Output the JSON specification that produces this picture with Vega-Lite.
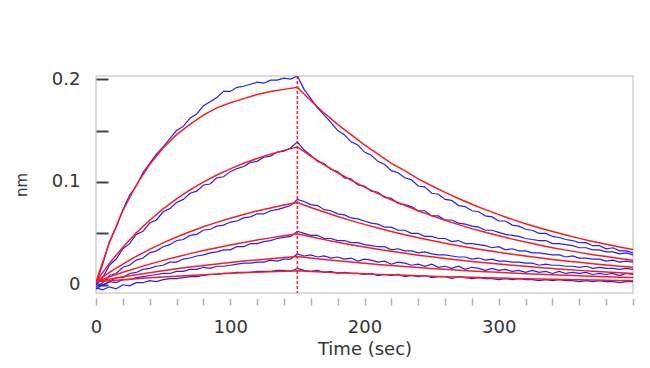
{
"$schema": "https://vega.github.io/schema/vega-lite/v6.json",
"width": 537, "height": 217,
"autosize": {"type": "none"},
"padding": {"left": 96, "top": 76, "right": 17, "bottom": 75},
"background": "white",
"config": {"view": {"stroke": "#cfcfcf", "strokeWidth": 1.5}, "font": "DejaVu Sans"},
"datasets": {
"raw": [
{"t":0,"b1":0.001,"b2":0.000,"b3":-0.002,"b4":-0.004,"b5":0.002,"b6":-0.003},
{"t":5,"b1":0.020,"b2":0.007,"b3":0.002,"b4":0.000,"b5":-0.001,"b6":-0.005},
{"t":10,"b1":0.042,"b2":0.019,"b3":0.009,"b4":0.003,"b5":0.003,"b6":-0.002},
{"t":15,"b1":0.056,"b2":0.025,"b3":0.011,"b4":0.007,"b5":0.002,"b6":-0.004},
{"t":20,"b1":0.073,"b2":0.035,"b3":0.017,"b4":0.007,"b5":0.005,"b6":0.000},
{"t":25,"b1":0.087,"b2":0.040,"b3":0.019,"b4":0.011,"b5":0.005,"b6":-0.001},
{"t":30,"b1":0.096,"b2":0.049,"b3":0.024,"b4":0.012,"b5":0.007,"b6":0.002},
{"t":35,"b1":0.109,"b2":0.052,"b3":0.026,"b4":0.015,"b5":0.008,"b6":0.002},
{"t":40,"b1":0.118,"b2":0.060,"b3":0.031,"b4":0.016,"b5":0.009,"b6":0.004},
{"t":45,"b1":0.127,"b2":0.063,"b3":0.033,"b4":0.018,"b5":0.010,"b6":0.003},
{"t":50,"b1":0.134,"b2":0.071,"b3":0.037,"b4":0.019,"b5":0.011,"b6":0.005},
{"t":55,"b1":0.142,"b2":0.074,"b3":0.039,"b4":0.022,"b5":0.011,"b6":0.006},
{"t":60,"b1":0.150,"b2":0.080,"b3":0.043,"b4":0.022,"b5":0.013,"b6":0.006},
{"t":65,"b1":0.154,"b2":0.083,"b3":0.044,"b4":0.025,"b5":0.013,"b6":0.007},
{"t":70,"b1":0.162,"b2":0.089,"b3":0.048,"b4":0.026,"b5":0.015,"b6":0.008},
{"t":75,"b1":0.166,"b2":0.091,"b3":0.049,"b4":0.028,"b5":0.015,"b6":0.008},
{"t":80,"b1":0.174,"b2":0.097,"b3":0.053,"b4":0.029,"b5":0.017,"b6":0.009},
{"t":85,"b1":0.178,"b2":0.098,"b3":0.054,"b4":0.031,"b5":0.016,"b6":0.010},
{"t":90,"b1":0.182,"b2":0.104,"b3":0.057,"b4":0.032,"b5":0.018,"b6":0.010},
{"t":95,"b1":0.188,"b2":0.105,"b3":0.058,"b4":0.034,"b5":0.018,"b6":0.011},
{"t":100,"b1":0.188,"b2":0.110,"b3":0.061,"b4":0.034,"b5":0.019,"b6":0.011},
{"t":105,"b1":0.192,"b2":0.113,"b3":0.062,"b4":0.037,"b5":0.020,"b6":0.012},
{"t":110,"b1":0.193,"b2":0.115,"b3":0.065,"b4":0.037,"b5":0.021,"b6":0.012},
{"t":115,"b1":0.195,"b2":0.119,"b3":0.066,"b4":0.040,"b5":0.021,"b6":0.012},
{"t":120,"b1":0.197,"b2":0.120,"b3":0.069,"b4":0.040,"b5":0.022,"b6":0.013},
{"t":125,"b1":0.196,"b2":0.124,"b3":0.069,"b4":0.042,"b5":0.022,"b6":0.013},
{"t":130,"b1":0.199,"b2":0.125,"b3":0.072,"b4":0.043,"b5":0.024,"b6":0.013},
{"t":135,"b1":0.199,"b2":0.129,"b3":0.073,"b4":0.045,"b5":0.023,"b6":0.014},
{"t":140,"b1":0.201,"b2":0.130,"b3":0.075,"b4":0.046,"b5":0.025,"b6":0.014},
{"t":145,"b1":0.200,"b2":0.133,"b3":0.077,"b4":0.047,"b5":0.025,"b6":0.013},
{"t":150,"b1":0.203,"b2":0.139,"b3":0.083,"b4":0.052,"b5":0.030,"b6":0.016},
{"t":155,"b1":0.190,"b2":0.131,"b3":0.081,"b4":0.050,"b5":0.028,"b6":0.014},
{"t":160,"b1":0.181,"b2":0.126,"b3":0.078,"b4":0.048,"b5":0.029,"b6":0.013},
{"t":165,"b1":0.172,"b2":0.120,"b3":0.077,"b4":0.048,"b5":0.027,"b6":0.014},
{"t":170,"b1":0.165,"b2":0.118,"b3":0.073,"b4":0.045,"b5":0.028,"b6":0.012},
{"t":175,"b1":0.158,"b2":0.112,"b3":0.072,"b4":0.045,"b5":0.026,"b6":0.013},
{"t":180,"b1":0.150,"b2":0.110,"b3":0.069,"b4":0.043,"b5":0.027,"b6":0.011},
{"t":185,"b1":0.146,"b2":0.104,"b3":0.068,"b4":0.043,"b5":0.025,"b6":0.012},
{"t":190,"b1":0.139,"b2":0.103,"b3":0.065,"b4":0.041,"b5":0.026,"b6":0.011},
{"t":195,"b1":0.136,"b2":0.097,"b3":0.064,"b4":0.041,"b5":0.023,"b6":0.011},
{"t":200,"b1":0.129,"b2":0.096,"b3":0.062,"b4":0.039,"b5":0.025,"b6":0.010},
{"t":205,"b1":0.126,"b2":0.091,"b3":0.060,"b4":0.038,"b5":0.024,"b6":0.011},
{"t":210,"b1":0.120,"b2":0.090,"b3":0.059,"b4":0.037,"b5":0.022,"b6":0.009},
{"t":215,"b1":0.117,"b2":0.085,"b3":0.056,"b4":0.037,"b5":0.023,"b6":0.010},
{"t":220,"b1":0.111,"b2":0.084,"b3":0.056,"b4":0.034,"b5":0.020,"b6":0.009},
{"t":225,"b1":0.109,"b2":0.079,"b3":0.053,"b4":0.035,"b5":0.022,"b6":0.010},
{"t":230,"b1":0.104,"b2":0.078,"b3":0.053,"b4":0.033,"b5":0.021,"b6":0.008},
{"t":235,"b1":0.102,"b2":0.076,"b3":0.050,"b4":0.033,"b5":0.019,"b6":0.009},
{"t":240,"b1":0.096,"b2":0.072,"b3":0.050,"b4":0.031,"b5":0.020,"b6":0.008},
{"t":245,"b1":0.095,"b2":0.072,"b3":0.047,"b4":0.032,"b5":0.018,"b6":0.009},
{"t":250,"b1":0.089,"b2":0.067,"b3":0.047,"b4":0.030,"b5":0.020,"b6":0.007},
{"t":255,"b1":0.088,"b2":0.067,"b3":0.045,"b4":0.029,"b5":0.017,"b6":0.008},
{"t":260,"b1":0.083,"b2":0.063,"b3":0.045,"b4":0.029,"b5":0.018,"b6":0.008},
{"t":265,"b1":0.082,"b2":0.063,"b3":0.042,"b4":0.028,"b5":0.016,"b6":0.006},
{"t":270,"b1":0.077,"b2":0.060,"b3":0.043,"b4":0.027,"b5":0.018,"b6":0.008},
{"t":275,"b1":0.076,"b2":0.059,"b3":0.040,"b4":0.027,"b5":0.015,"b6":0.007},
{"t":280,"b1":0.072,"b2":0.057,"b3":0.040,"b4":0.025,"b5":0.017,"b6":0.006},
{"t":285,"b1":0.071,"b2":0.056,"b3":0.039,"b4":0.026,"b5":0.016,"b6":0.007},
{"t":290,"b1":0.067,"b2":0.053,"b3":0.038,"b4":0.024,"b5":0.014,"b6":0.006},
{"t":295,"b1":0.066,"b2":0.053,"b3":0.036,"b4":0.025,"b5":0.016,"b6":0.006},
{"t":300,"b1":0.062,"b2":0.051,"b3":0.037,"b4":0.023,"b5":0.014,"b6":0.005},
{"t":305,"b1":0.062,"b2":0.049,"b3":0.034,"b4":0.023,"b5":0.015,"b6":0.006},
{"t":310,"b1":0.058,"b2":0.048,"b3":0.035,"b4":0.022,"b5":0.013,"b6":0.005},
{"t":315,"b1":0.057,"b2":0.047,"b3":0.033,"b4":0.022,"b5":0.014,"b6":0.006},
{"t":320,"b1":0.054,"b2":0.045,"b3":0.033,"b4":0.021,"b5":0.012,"b6":0.005},
{"t":325,"b1":0.053,"b2":0.044,"b3":0.031,"b4":0.021,"b5":0.014,"b6":0.005},
{"t":330,"b1":0.050,"b2":0.043,"b3":0.031,"b4":0.019,"b5":0.012,"b6":0.004},
{"t":335,"b1":0.050,"b2":0.043,"b3":0.030,"b4":0.020,"b5":0.013,"b6":0.005},
{"t":340,"b1":0.047,"b2":0.040,"b3":0.029,"b4":0.019,"b5":0.011,"b6":0.004},
{"t":345,"b1":0.046,"b2":0.040,"b3":0.029,"b4":0.019,"b5":0.013,"b6":0.005},
{"t":350,"b1":0.044,"b2":0.039,"b3":0.027,"b4":0.018,"b5":0.011,"b6":0.004},
{"t":355,"b1":0.043,"b2":0.038,"b3":0.028,"b4":0.018,"b5":0.012,"b6":0.004},
{"t":360,"b1":0.041,"b2":0.036,"b3":0.026,"b4":0.017,"b5":0.011,"b6":0.003},
{"t":365,"b1":0.041,"b2":0.036,"b3":0.026,"b4":0.018,"b5":0.012,"b6":0.004},
{"t":370,"b1":0.038,"b2":0.034,"b3":0.025,"b4":0.016,"b5":0.010,"b6":0.003},
{"t":375,"b1":0.038,"b2":0.034,"b3":0.025,"b4":0.017,"b5":0.011,"b6":0.004},
{"t":380,"b1":0.035,"b2":0.032,"b3":0.023,"b4":0.016,"b5":0.010,"b6":0.003},
{"t":385,"b1":0.036,"b2":0.032,"b3":0.024,"b4":0.016,"b5":0.011,"b6":0.003},
{"t":390,"b1":0.033,"b2":0.030,"b3":0.022,"b4":0.015,"b5":0.009,"b6":0.002},
{"t":395,"b1":0.033,"b2":0.031,"b3":0.023,"b4":0.016,"b5":0.011,"b6":0.003},
{"t":400,"b1":0.031,"b2":0.029,"b3":0.022,"b4":0.015,"b5":0.010,"b6":0.003}
],
"fit": [
{"t":0,"r1":0.003,"r2":0.003,"r3":0.003,"r4":0.003,"r5":0.003,"r6":0.003},
{"t":10,"r1":0.041,"r2":0.0208,"r3":0.0120,"r4":0.0077,"r5":0.0054,"r6":0.0040},
{"t":20,"r1":0.072,"r2":0.0365,"r3":0.0201,"r4":0.0121,"r5":0.0077,"r6":0.0050},
{"t":30,"r1":0.097,"r2":0.0505,"r3":0.0276,"r4":0.0162,"r5":0.0098,"r6":0.0059},
{"t":40,"r1":0.117,"r2":0.0628,"r3":0.0344,"r4":0.0201,"r5":0.0118,"r6":0.0068},
{"t":50,"r1":0.133,"r2":0.0738,"r3":0.0407,"r4":0.0237,"r5":0.0137,"r6":0.0076},
{"t":60,"r1":0.146,"r2":0.0836,"r3":0.0464,"r4":0.0271,"r5":0.0155,"r6":0.0084},
{"t":70,"r1":0.156,"r2":0.0922,"r3":0.0516,"r4":0.0303,"r5":0.0172,"r6":0.0091},
{"t":80,"r1":0.165,"r2":0.0999,"r3":0.0564,"r4":0.0333,"r5":0.0187,"r6":0.0098},
{"t":90,"r1":0.172,"r2":0.1067,"r3":0.0607,"r4":0.0361,"r5":0.0202,"r6":0.0105},
{"t":100,"r1":0.177,"r2":0.1127,"r3":0.0647,"r4":0.0387,"r5":0.0216,"r6":0.0111},
{"t":110,"r1":0.181,"r2":0.1181,"r3":0.0684,"r4":0.0412,"r5":0.0230,"r6":0.0116},
{"t":120,"r1":0.185,"r2":0.1228,"r3":0.0717,"r4":0.0435,"r5":0.0242,"r6":0.0122},
{"t":130,"r1":0.188,"r2":0.1270,"r3":0.0747,"r4":0.0456,"r5":0.0254,"r6":0.0127},
{"t":140,"r1":0.190,"r2":0.1307,"r3":0.0775,"r4":0.0476,"r5":0.0265,"r6":0.0131},
{"t":150,"r1":0.192,"r2":0.1340,"r3":0.0800,"r4":0.0495,"r5":0.0275,"r6":0.0136},
{"t":160,"r1":0.179,"r2":0.1251,"r3":0.0752,"r4":0.0466,"r5":0.0260,"r6":0.0129},
{"t":170,"r1":0.167,"r2":0.1167,"r3":0.0707,"r4":0.0439,"r5":0.0246,"r6":0.0123},
{"t":180,"r1":0.156,"r2":0.1089,"r3":0.0664,"r4":0.0413,"r5":0.0233,"r6":0.0117},
{"t":190,"r1":0.146,"r2":0.1017,"r3":0.0624,"r4":0.0389,"r5":0.0221,"r6":0.0112},
{"t":200,"r1":0.136,"r2":0.0949,"r3":0.0587,"r4":0.0367,"r5":0.0209,"r6":0.0106},
{"t":210,"r1":0.127,"r2":0.0886,"r3":0.0552,"r4":0.0345,"r5":0.0198,"r6":0.0101},
{"t":220,"r1":0.118,"r2":0.0827,"r3":0.0518,"r4":0.0325,"r5":0.0187,"r6":0.0097},
{"t":230,"r1":0.111,"r2":0.0772,"r3":0.0487,"r4":0.0306,"r5":0.0177,"r6":0.0092},
{"t":240,"r1":0.103,"r2":0.0720,"r3":0.0458,"r4":0.0288,"r5":0.0168,"r6":0.0088},
{"t":250,"r1":0.0963,"r2":0.0672,"r3":0.0430,"r4":0.0272,"r5":0.0159,"r6":0.0083},
{"t":260,"r1":0.0899,"r2":0.0627,"r3":0.0404,"r4":0.0256,"r5":0.0150,"r6":0.0079},
{"t":270,"r1":0.0839,"r2":0.0585,"r3":0.0380,"r4":0.0241,"r5":0.0142,"r6":0.0076},
{"t":280,"r1":0.0783,"r2":0.0546,"r3":0.0357,"r4":0.0227,"r5":0.0135,"r6":0.0072},
{"t":290,"r1":0.0731,"r2":0.0510,"r3":0.0336,"r4":0.0214,"r5":0.0127,"r6":0.0068},
{"t":300,"r1":0.0682,"r2":0.0476,"r3":0.0316,"r4":0.0201,"r5":0.0121,"r6":0.0065},
{"t":310,"r1":0.0636,"r2":0.0444,"r3":0.0297,"r4":0.0190,"r5":0.0114,"r6":0.0062},
{"t":320,"r1":0.0594,"r2":0.0415,"r3":0.0279,"r4":0.0179,"r5":0.0108,"r6":0.0059},
{"t":330,"r1":0.0554,"r2":0.0387,"r3":0.0262,"r4":0.0168,"r5":0.0102,"r6":0.0056},
{"t":340,"r1":0.0518,"r2":0.0361,"r3":0.0246,"r4":0.0158,"r5":0.0097,"r6":0.0054},
{"t":350,"r1":0.0483,"r2":0.0337,"r3":0.0232,"r4":0.0149,"r5":0.0092,"r6":0.0051},
{"t":360,"r1":0.0451,"r2":0.0315,"r3":0.0218,"r4":0.0140,"r5":0.0087,"r6":0.0049},
{"t":370,"r1":0.0421,"r2":0.0293,"r3":0.0205,"r4":0.0132,"r5":0.0082,"r6":0.0046},
{"t":380,"r1":0.0393,"r2":0.0274,"r3":0.0192,"r4":0.0125,"r5":0.0078,"r6":0.0044},
{"t":390,"r1":0.0367,"r2":0.0256,"r3":0.0181,"r4":0.0117,"r5":0.0073,"r6":0.0042},
{"t":400,"r1":0.0342,"r2":0.0239,"r3":0.0170,"r4":0.0110,"r5":0.0070,"r6":0.0040}
],
"marker": [{"t":150}]
},
"layer": [
{
"data": {"name": "raw"},
"transform": [{"fold": ["b1","b2","b3","b4","b5","b6"], "as": ["series","v"]}],
"mark": {"type": "line", "color": "#1f1fff", "strokeWidth": 1.2, "clip": true},
"encoding": {
"x": {"field": "t", "type": "quantitative", "scale": {"domain": [0, 400], "nice": false},
"axis": {"title": "Time (sec)", "values": [0,20,40,60,80,100,120,140,160,180,200,220,240,260,280,300,320,340,360,380,400],
"tickCount": 30,
"labelExpr": "indexof([0,100,200,300], datum.value) >= 0 ? datum.label : ''",
"labelOverlap": false, "labelBound": false, "labelFlush": false,
"offset": 5, "domain": false, "grid": false, "tickSize": 7, "tickColor": "#b0b0b0", "tickWidth": 1.5,
"labelFontSize": 18, "labelColor": "#333333", "labelPadding": 13,
"titleFontSize": 18, "titleFontWeight": "normal", "titleColor": "#333333", "titlePadding": 4}},
"y": {"field": "v", "type": "quantitative", "scale": {"domain": [-0.008, 0.203], "nice": false, "zero": false},
"axis": {"title": "nm", "values": [0, 0.05, 0.1, 0.15, 0.2], "format": ".1~f", "tickCount": 10,
"labelExpr": "indexof([0,0.1,0.2], datum.value) >= 0 ? datum.label : ''",
"labelOverlap": false, "labelBound": false, "labelFlush": false,
"domain": false, "grid": false, "tickSize": -12, "tickColor": "#444444", "tickWidth": 2,
"labelFontSize": 18, "labelColor": "#333333", "labelPadding": 28,
"titleFontSize": 15, "titleFontWeight": "normal", "titleColor": "#333333", "titlePadding": 22}},
"detail": {"field": "series"}
}
},
{
"data": {"name": "fit"},
"transform": [{"fold": ["r1","r2","r3","r4","r5","r6"], "as": ["series","v"]}],
"mark": {"type": "line", "color": "#ff1a1a", "strokeWidth": 1.5, "clip": true},
"encoding": {
"x": {"field": "t", "type": "quantitative"},
"y": {"field": "v", "type": "quantitative"},
"detail": {"field": "series"}
}
},
{
"data": {"name": "marker"},
"mark": {"type": "rule", "color": "#ff1a1a", "strokeWidth": 1.5, "strokeDash": [3, 2]},
"encoding": {"x": {"field": "t", "type": "quantitative"}}
}
]
}
